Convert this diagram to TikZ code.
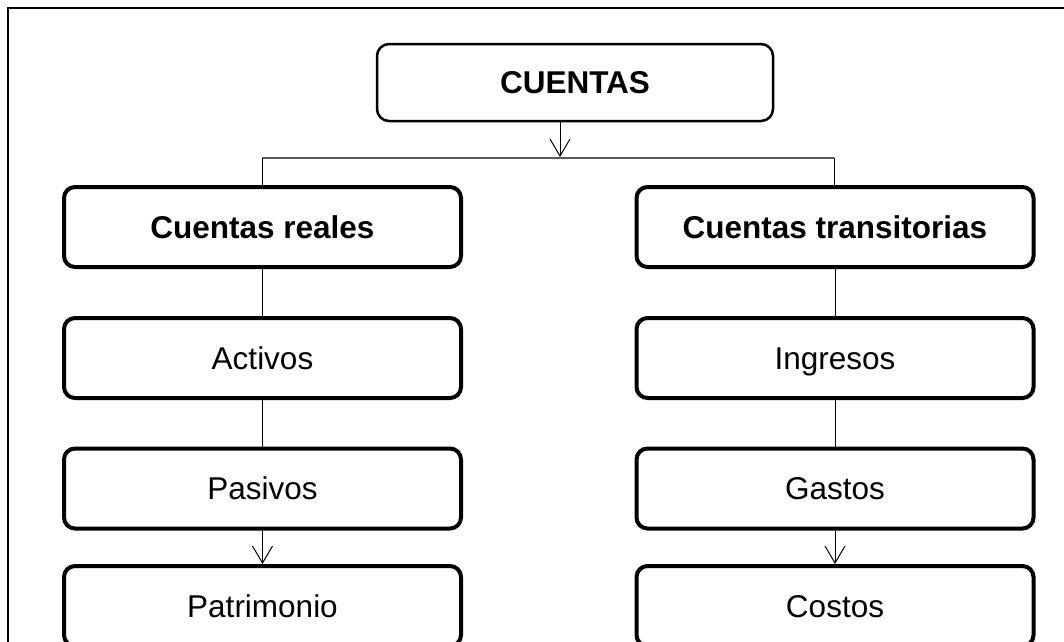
\documentclass[tikz,border=0pt]{standalone}
\usepackage{fontspec}
\setmainfont{Liberation Sans}
\usetikzlibrary{arrows.meta}
\begin{document}
\begin{tikzpicture}[x=1pt,y=-1pt,
  boxbase/.style={draw=black,inner sep=0pt,text height=23pt,text depth=1pt},
  topbox/.style={boxbase,line width=2.5pt,rounded corners=12pt,minimum width=396pt,minimum height=77pt,
    font=\fontsize{31.5}{36}\selectfont\bfseries},
  headbox/.style={boxbase,line width=4pt,rounded corners=11pt,minimum width=397pt,minimum height=80pt,
    font=\fontsize{31.5}{36}\selectfont\bfseries},
  itembox/.style={boxbase,line width=4pt,rounded corners=11pt,minimum width=397pt,minimum height=80pt,
    font=\fontsize{31.5}{36}\selectfont},
  link/.style={draw=black,line width=1pt},
  arr/.style={draw=black,line width=1pt,-{Straight Barb[length=17pt,width=20pt]}},
  bar/.style={draw=black!65,line width=1.5pt}]
\useasboundingbox (0,0) rectangle (1064,641);
\clip (0,0) rectangle (1064,641);
\draw[line width=2pt] (8,8) rectangle (1080,660);
\node[topbox] (cuentas) at (575,82.5) {CUENTAS};
\node[headbox] (reales) at (262.5,227) {Cuentas reales};
\node[headbox] (trans) at (835,227) {Cuentas transitorias};
\node[itembox] (activos) at (262.5,358) {Activos};
\node[itembox] (pasivos) at (262.5,488.5) {Pasivos};
\node[itembox] (patri) at (262.5,606) {Patrimonio};
\node[itembox] (ingresos) at (835,358) {Ingresos};
\node[itembox] (gastos) at (835,488.5) {Gastos};
\node[itembox] (costos) at (835,606) {Costos};
\coordinate (jL) at (262,158);
\coordinate (jR) at (834,158);
\coordinate (jM) at (560,157);
\draw[bar] (jL) -- (jR);
\draw[arr] (jM |- cuentas.south) -- (jM);
\draw[link] (jL) -- (jL |- reales.north);
\draw[link] (jR) -- (jR |- trans.north);
\draw[link] (reales.south) -- (activos.north);
\draw[link] (activos.south) -- (pasivos.north);
\draw[arr] (pasivos.south) -- (patri.north);
\draw[link] (trans.south) -- (ingresos.north);
\draw[link] (ingresos.south) -- (gastos.north);
\draw[arr] (gastos.south) -- (costos.north);
\end{tikzpicture}
\end{document}
